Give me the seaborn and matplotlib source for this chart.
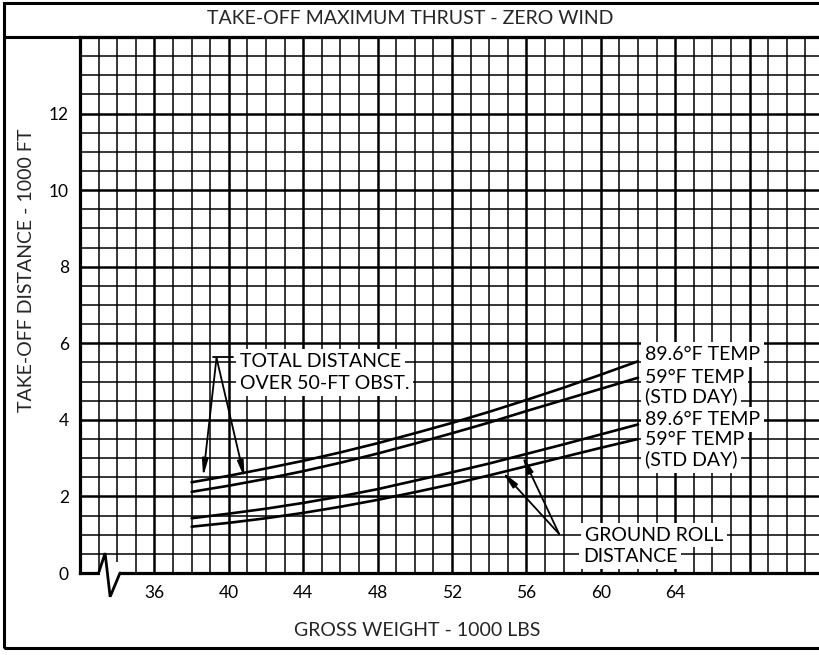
import numpy as np
import pandas as pd
import matplotlib
matplotlib.use("Agg")
import matplotlib.pyplot as plt
from matplotlib.patches import Rectangle
from matplotlib.lines import Line2D
import seaborn as sns

# ------------------------------------------------------
# data (weight in 1000 lbs, distance in 1000 ft)
# ------------------------------------------------------
weight = [38, 40, 42, 44, 46, 48, 50, 52, 54, 56, 58, 60, 62]
total_hot = [2.37, 2.54, 2.73, 2.93, 3.15, 3.39, 3.65, 3.92, 4.21, 4.52, 4.84, 5.18, 5.53]  # 89.6 F
total_std = [2.12, 2.28, 2.46, 2.66, 2.88, 3.12, 3.38, 3.65, 3.93, 4.23, 4.52, 4.81, 5.10]  # 59 F
roll_hot = [1.43, 1.55, 1.68, 1.83, 2.00, 2.19, 2.41, 2.63, 2.86, 3.11, 3.36, 3.62, 3.88]   # 89.6 F
roll_std = [1.21, 1.31, 1.43, 1.57, 1.73, 1.91, 2.11, 2.32, 2.55, 2.79, 3.03, 3.27, 3.50]   # 59 F

x_ticks = [36, 40, 44, 48, 52, 56, 60, 64, 68]
x_labels = ["36", "40", "44", "48", "52", "56", "60", "64", ""]
y_ticks = [0, 2, 4, 6, 8, 10, 12]

n = len(weight)
df = pd.DataFrame({
    "weight": weight * 4,
    "dist": total_hot + total_std + roll_hot + roll_std,
    "series": ["total_hot"] * n + ["total_std"] * n + ["roll_hot"] * n + ["roll_std"] * n,
})

sns.set_style("white")
plt.rcParams["font.family"] = ["Lato", "DejaVu Sans"]

fig = plt.figure(figsize=(8.2, 6.55), dpi=100)
ax = fig.add_axes([80 / 820, 82 / 655, 740 / 820, 536 / 655])

sns.lineplot(data=df, x="weight", y="dist", hue="series",
             palette=["black"] * 4, lw=1.9, legend=False, ax=ax, zorder=2)

# ---- axes / graph paper grid ----
ax.set_xlim(32, 32 + 740 / 18.6)
ax.set_ylim(0, 14)
ax.set_xticks(x_ticks)
ax.set_xticklabels(x_labels)
ax.set_xticks(np.arange(33, 72), minor=True)
ax.set_yticks(y_ticks)
ax.set_yticks(np.arange(0.5, 14, 0.5), minor=True)
ax.grid(which="major", color="black", lw=1.8)
ax.grid(which="minor", color="black", lw=1.1)
ax.tick_params(which="both", length=0, labelsize=12.5, colors="black")
ax.tick_params(axis="x", pad=9)
ax.tick_params(axis="y", pad=8)
ax.set_xlabel("")
ax.set_ylabel("")
for s in ["left", "top", "bottom"]:
    ax.spines[s].set_linewidth(2.3)
    ax.spines[s].set_color("black")
ax.spines["right"].set_visible(False)

# axis break at the lower left corner
ax.add_patch(Rectangle((33.05, -0.25), 1.08, 0.55, fc="white", ec="none",
                       zorder=3, clip_on=False))
ax.plot([33.0, 33.35, 33.62, 34.15], [0, 0.52, -0.62, 0], color="black",
        lw=2.0, clip_on=False, zorder=4, solid_joinstyle="miter")

# ---- annotations ----
box = dict(fc="white", ec="none", pad=2.8)
txt = dict(fontsize=14, color="black", va="center", ha="left", bbox=box, zorder=5)

ax.text(40.6, 5.53, "TOTAL DISTANCE", **txt)
ax.text(40.6, 4.94, "OVER 50-FT OBST.", **txt)

ax.text(62.38, 5.71, "89.6°F TEMP", **txt)
ax.text(62.38, 5.11, "59°F TEMP", **txt)
ax.text(62.38, 4.62, "(STD DAY)", **txt)
ax.text(62.38, 4.01, "89.6°F TEMP", **txt)
ax.text(62.38, 3.49, "59°F TEMP", **txt)
ax.text(62.38, 2.96, "(STD DAY)", **txt)

ax.text(59.15, 0.99, "GROUND ROLL", **txt)
ax.text(59.05, 0.43, "DISTANCE", **txt)

arrow = dict(arrowstyle="-|>,head_length=1.0,head_width=0.18", color="black",
             lw=1.3, shrinkA=0, shrinkB=0)
ax.plot([39.15, 40.23], [5.64, 5.64], color="black", lw=1.3, zorder=4)
ax.annotate("", xy=(38.62, 2.52), xytext=(39.34, 5.62), arrowprops=arrow, zorder=4)
ax.annotate("", xy=(40.85, 2.47), xytext=(39.34, 5.62), arrowprops=arrow, zorder=4)
ax.annotate("", xy=(54.71, 2.64), xytext=(57.76, 1.02), arrowprops=arrow, zorder=4)
ax.annotate("", xy=(55.78, 3.06), xytext=(57.76, 1.02), arrowprops=arrow, zorder=4)

# ---- title, axis labels and outer frame ----
fig.text(410 / 820, 1 - 19 / 655, "TAKE-OFF MAXIMUM THRUST - ZERO WIND",
         ha="center", va="center", fontsize=14)
fig.text(417 / 820, 1 - 631 / 655, "GROSS WEIGHT - 1000 LBS",
         ha="center", va="center", fontsize=14)
fig.text(27 / 820, 1 - 270 / 655, "TAKE-OFF DISTANCE - 1000 FT",
         ha="center", va="center", rotation=90, fontsize=14)

fig.add_artist(Rectangle((4 / 820, 1 - 648 / 655), 1.1, 645 / 655,
                         transform=fig.transFigure, fill=False, ec="black", lw=2.2))
fig.add_artist(Line2D([4 / 820, 1], [1 - 37 / 655, 1 - 37 / 655],
                      transform=fig.transFigure, color="black", lw=2.2))

plt.savefig("out.png", dpi=100)
